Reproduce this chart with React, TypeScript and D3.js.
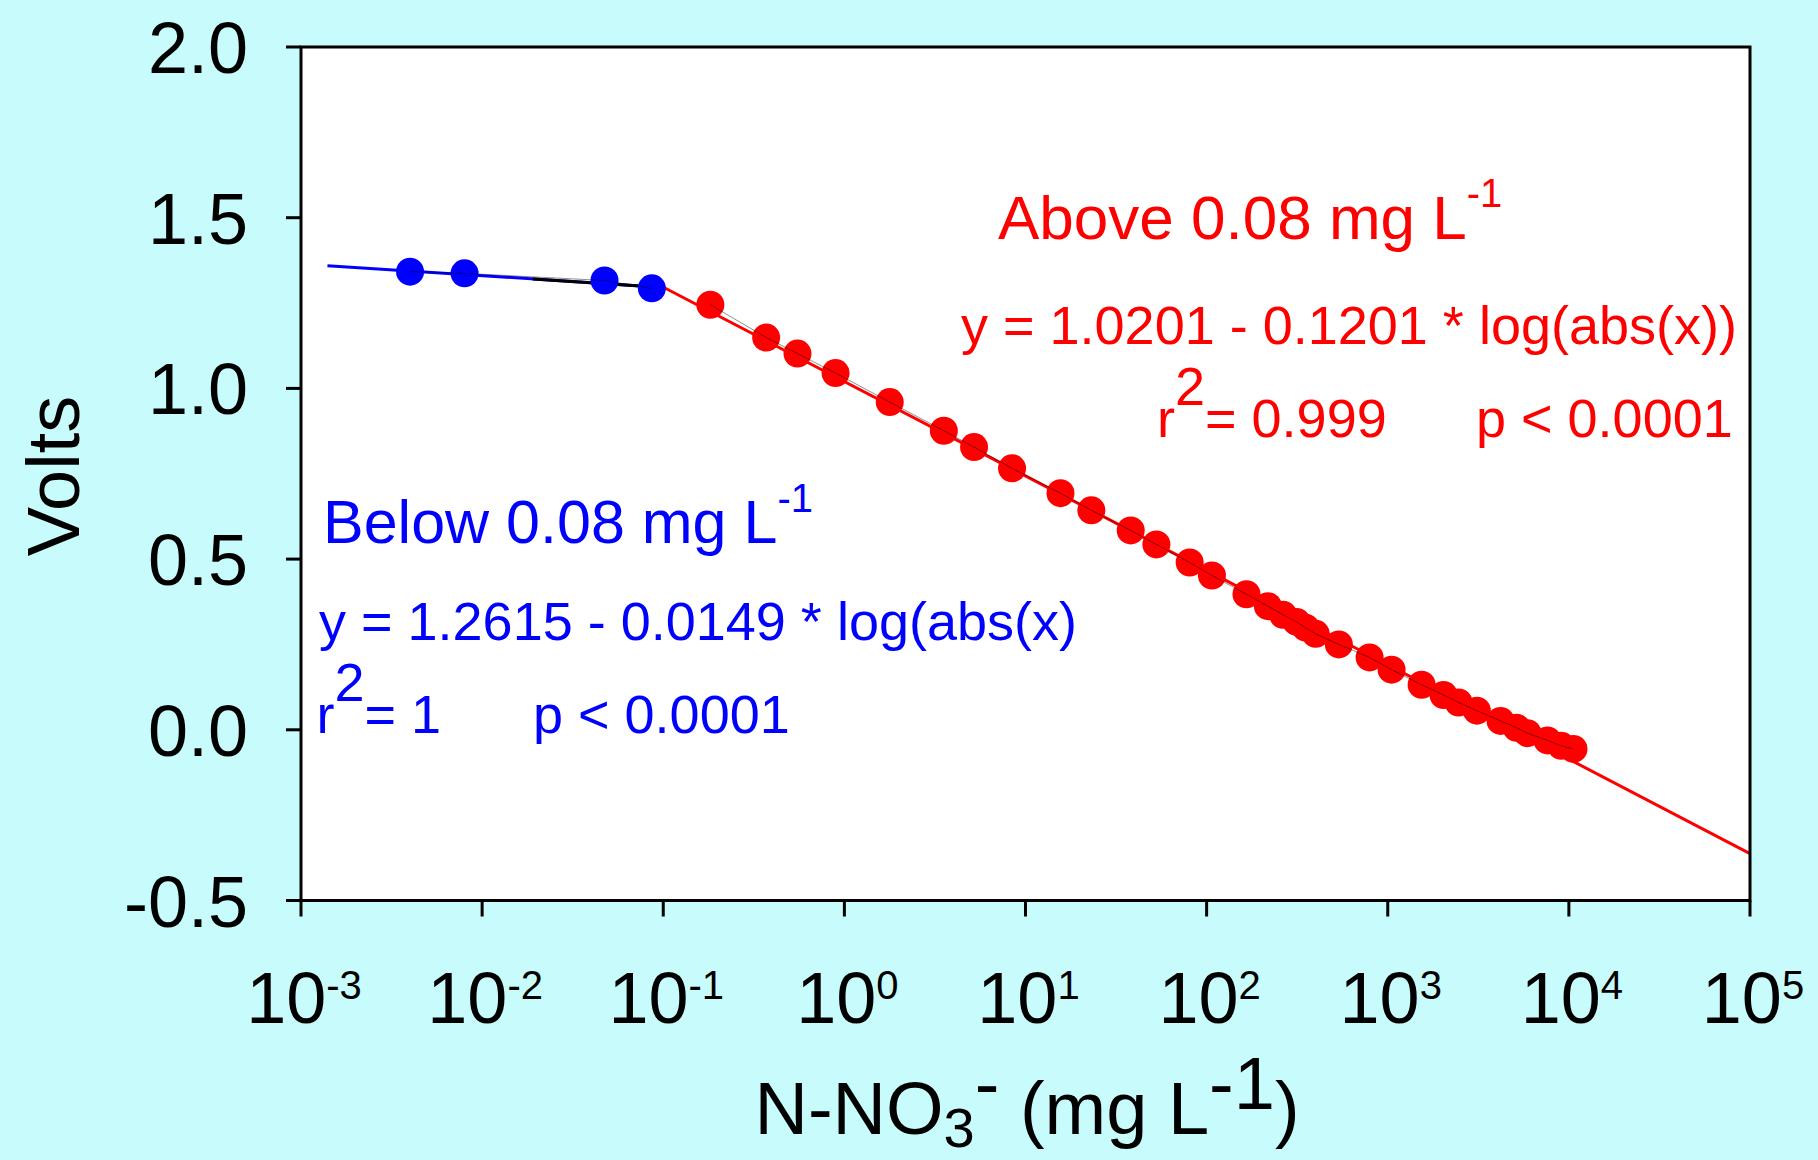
import React from "react";
import * as d3 from "d3";

// Electrode response (volts) versus nitrate-N concentration
const blueX = [0.004, 0.008, 0.0474, 0.0865];
const blueY = [1.342, 1.337, 1.316, 1.293];

const redX = [
  0.182, 0.37, 0.551, 0.894, 1.78, 3.54, 5.2, 8.43, 15.6, 23.1, 38.1, 52.8,
  80.6, 107, 166, 218, 264, 314, 352, 400, 537, 794, 1050, 1538, 2032, 2460,
  3105, 4195, 5140, 5910, 7620, 9075, 10600,
];
const redY = [
  1.245, 1.149, 1.102, 1.045, 0.96, 0.876, 0.828, 0.766, 0.693, 0.643, 0.584,
  0.543, 0.49, 0.452, 0.397, 0.362, 0.337, 0.316, 0.299, 0.281, 0.25, 0.212,
  0.176, 0.132, 0.102, 0.08, 0.056, 0.026, 0.006, -0.01, -0.031, -0.047,
  -0.056,
];

// Regression coefficients: y = a - b * ln(x)
const lowFit = { a: 1.2615, b: 0.0149, from: 0.0014, to: 0.0865 };
const lowFitDark = { from: 0.019, to: 0.0865 };
const highFit = { a: 1.0201, b: 0.1201, from: 0.08, to: 1e5 };

const yTicks = [-0.5, 0, 0.5, 1.0, 1.5, 2.0];
const xExponents = [-3, -2, -1, 0, 1, 2, 3, 4, 5];

const FONT = "'Liberation Sans', Arial, Helvetica, sans-serif";
const BG = "#C8FCFC";

export default function App() {
  const W = 1818;
  const H = 1160;
  const left = 301;
  const right = 1750;
  const top = 47;
  const bottom = 900.5;

  const x = d3.scaleLog().domain([1e-3, 1e5]).range([left, right]);
  const y = d3.scaleLinear().domain([-0.5, 2]).range([bottom, top]);

  const fitPath = (a: number, b: number, from: number, to: number) => {
    const pts: [number, number][] = [from, to].map((v) => [v, a - b * Math.log(v)]);
    return d3
      .line<[number, number]>()
      .x((d) => x(d[0]))
      .y((d) => y(d[1]))(pts) as string;
  };

  const connect = (xs: number[], ys: number[]) =>
    d3
      .line<number>()
      .x((_, i) => x(xs[i]))
      .y((d) => y(d))(ys) as string;

  // plain hyphen for negative numbers
  const fmt = (v: number) => d3.format(".1f")(v).replace("\u2212", "-");
  const R = 14;

  return (
    <svg
      width={W}
      height={H}
      style={{ position: "absolute", left: 0, top: 0, display: "block" }}
      fontFamily={FONT}
    >
      <rect x={0} y={0} width={W} height={H} fill={BG} />
      <rect x={left} y={top} width={right - left} height={bottom - top} fill="#fff" />

      {/* fit lines */}
      <path d={fitPath(lowFit.a, lowFit.b, lowFit.from, lowFit.to)} stroke="#0000ff" strokeWidth={3} fill="none" />
      <path d={fitPath(lowFit.a, lowFit.b, lowFitDark.from, lowFitDark.to)} stroke="#000" strokeWidth={3} fill="none" />
      <path d={fitPath(highFit.a, highFit.b, highFit.from, highFit.to)} stroke="#ff0000" strokeWidth={3} fill="none" />

      {/* data points */}
      {blueX.map((v, i) => (
        <circle key={"b" + i} cx={x(v)} cy={y(blueY[i])} r={R} fill="#0000ff" />
      ))}
      {redX.map((v, i) => (
        <circle key={"r" + i} cx={x(v)} cy={y(redY[i])} r={R} fill="#ff0000" />
      ))}
      <path d={connect(blueX, blueY)} stroke="#000" strokeOpacity={0.55} strokeWidth={0.8} fill="none" />
      <path d={connect(redX, redY)} stroke="#000" strokeOpacity={0.55} strokeWidth={0.8} fill="none" />

      {/* frame */}
      <rect x={left} y={top} width={right - left} height={bottom - top} fill="none" stroke="#000" strokeWidth={3} />

      {/* y axis */}
      {yTicks.map((t) => (
        <g key={"yt" + t}>
          <line x1={left - 15} x2={left} y1={y(t)} y2={y(t)} stroke="#000" strokeWidth={3} />
          <text x={248} y={y(t) + 26} textAnchor="end" fontSize={72} fill="#000">
            {fmt(t)}
          </text>
        </g>
      ))}

      {/* x axis */}
      {xExponents.map((e) => (
        <g key={"xt" + e}>
          <line x1={x(Math.pow(10, e))} x2={x(Math.pow(10, e))} y1={bottom} y2={bottom + 16} stroke="#000" strokeWidth={3} />
          <text x={x(Math.pow(10, e)) + 3} y={1023} textAnchor="middle" fontSize={72} fill="#000">
            10
            <tspan fontSize={40} dy={-24}>
              {e < 0 ? "-" + Math.abs(e) : String(e)}
            </tspan>
          </text>
        </g>
      ))}

      {/* axis titles */}
      <text x={1027} y={1134} textAnchor="middle" fontSize={74} fill="#000">
        N-NO
        <tspan fontSize={56} dy={13}>3</tspan>
        <tspan dy={-38}>-</tspan>
        <tspan dy={25}> (mg L</tspan>
        <tspan dy={-25}>-1</tspan>
        <tspan dy={25}>)</tspan>
      </text>
      <text transform="translate(79,476) rotate(-90)" textAnchor="middle" fontSize={74} fill="#000">
        Volts
      </text>

      {/* high-range annotation */}
      <g fill="#ff0000">
        <text x={998} y={239} fontSize={62}>
          Above 0.08 mg L
          <tspan fontSize={40} dy={-32}>-1</tspan>
        </text>
        <text x={961} y={344} fontSize={54}>
          y = 1.0201 - 0.1201 * log(abs(x))
        </text>
        <text x={1157} y={437} fontSize={54}>
          r<tspan dy={-32}>2</tspan>
          <tspan dy={32}>= 0.999</tspan>
        </text>
        <text x={1476} y={437} fontSize={54}>
          p &lt; 0.0001
        </text>
      </g>

      {/* low-range annotation */}
      <g fill="#0000ff">
        <text x={323} y={543} fontSize={61}>
          Below 0.08 mg L
          <tspan fontSize={40} dy={-31}>-1</tspan>
        </text>
        <text x={319} y={640} fontSize={54}>
          y = 1.2615 - 0.0149 * log(abs(x)
        </text>
        <text x={316.5} y={733} fontSize={54}>
          r<tspan dy={-32}>2</tspan>
          <tspan dy={32}>= 1</tspan>
        </text>
        <text x={533} y={733} fontSize={54}>
          p &lt; 0.0001
        </text>
      </g>
    </svg>
  );
}
